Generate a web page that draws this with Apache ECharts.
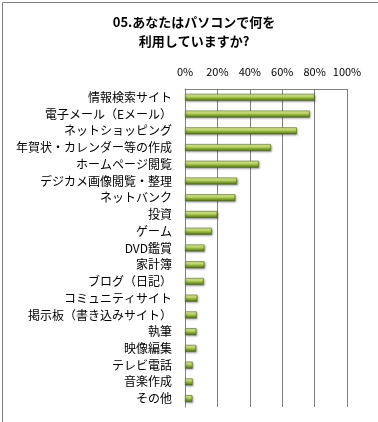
<!DOCTYPE html>
<html><head><meta charset="utf-8">
<script src="https://cdn.jsdelivr.net/npm/echarts@6/dist/echarts.min.js"></script>
<style>html,body{margin:0;padding:0;background:#fff}#c{width:378px;height:422px}</style>
</head><body><div id="c"></div>
<script>
const titleLines = ['05.あなたはパソコンで何を', '利用していますか?'];
const categories = ['情報検索サイト','電子メール（Eメール）','ネットショッピング','年賀状・カレンダー等の作成','ホームページ閲覧','デジカメ画像閲覧・整理','ネットバンク','投資','ゲーム','DVD鑑賞','家計簿','ブログ（日記）','コミュニティサイト','掲示板（書き込みサイト）','執筆','映像編集','テレビ電話','音楽作成','その他'];
const values = [80, 77, 69, 53, 45.5, 32, 31, 20, 16.5, 12, 12, 11.5, 7.6, 7.2, 7, 6.8, 4.7, 4.7, 4.5];
const xTicks = [0, 20, 40, 60, 80, 100];

const chart = echarts.init(document.getElementById('c'), null, {renderer: 'canvas'});
const font = '"Noto Sans CJK JP", "DejaVu Sans", sans-serif';
chart.setOption({
  backgroundColor: '#fff',
  animation: false,
  title: {
    text: titleLines.join('\n'),
    left: 189, top: 8, textAlign: 'center',
    textStyle: {fontFamily: font, fontSize: 13, fontWeight: 'bold', color: '#000', lineHeight: 19}
  },
  graphic: [{
    type: 'rect', left: 0, top: 0, z: 100, silent: true,
    shape: {width: 376, height: 421},
    style: {fill: 'none', stroke: '#808080', lineWidth: 1}
  }],
  grid: {left: 185, right: 31, top: 89, bottom: 15, containLabel: false},
  xAxis: {
    type: 'value', position: 'top', min: xTicks[0], max: xTicks[xTicks.length - 1], interval: 20,
    axisLine: {show: true, lineStyle: {color: '#808080', width: 1}},
    axisTick: {show: false},
    splitLine: {show: true, lineStyle: {color: '#808080', width: 1}},
    axisLabel: {formatter: '{value}%', fontFamily: font, fontSize: 11, color: '#000', margin: 12}
  },
  yAxis: {
    type: 'category', inverse: true, data: categories,
    axisLine: {show: true, lineStyle: {color: '#808080', width: 1}},
    axisTick: {show: false},
    axisLabel: {fontFamily: font, fontSize: 12, color: '#000', margin: 13, interval: 0}
  },
  series: [{
    type: 'bar', data: values, barWidth: 7,
    itemStyle: {
      color: new echarts.graphic.LinearGradient(0, 0, 0, 1, [
        {offset: 0, color: '#eef7b8'},
        {offset: 0.35, color: '#c8e070'},
        {offset: 0.6, color: '#8fb03a'},
        {offset: 1, color: '#4c6818'}
      ]),
      borderColor: '#4d6a1a', borderWidth: 0.6,
      shadowColor: 'rgba(0,0,0,0.35)', shadowBlur: 2, shadowOffsetX: 1, shadowOffsetY: 1
    }
  }]
});
</script></body></html>
